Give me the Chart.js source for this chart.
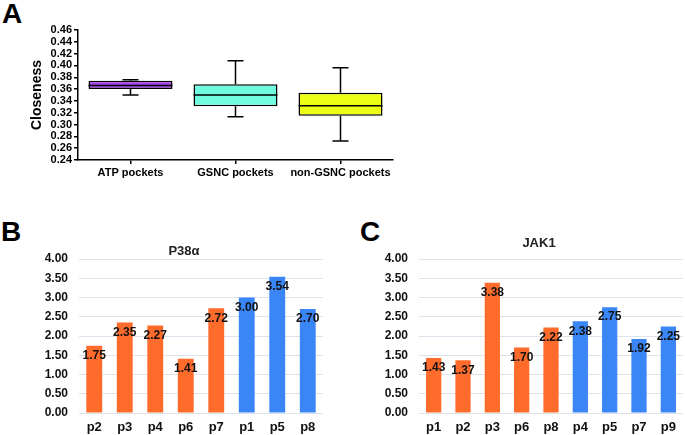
<!DOCTYPE html>
<html>
<head>
<meta charset="utf-8">
<script src="https://cdn.jsdelivr.net/npm/chart.js@4.4.1/dist/chart.umd.min.js"></script>
<style>
    body { margin: 0; background: #fff; width: 685px; height: 435px; position: relative; overflow: hidden; font-family: 'Liberation Sans', Arial, sans-serif; }
    .panel { position: absolute; }
    .letter { position: absolute; font-weight: bold; font-size: 28px; line-height: 28px; color: #000; }
</style>
</head>
<body>
<div class="letter" style="left:2px;top:0px">A</div>
<div class="letter" style="left:1px;top:218px">B</div>
<div class="letter" style="left:360px;top:218px">C</div>
<div class="panel" style="left:0;top:0;width:400px;height:200px"><canvas id="boxChart"></canvas></div>
<div class="panel" style="left:0;top:230px;width:335px;height:205px"><canvas id="p38Chart"></canvas></div>
<div class="panel" style="left:340px;top:230px;width:345px;height:205px"><canvas id="jakChart"></canvas></div>
<script>
// panel A - closeness box plot
const boxLabels = ['ATP pockets', 'GSNC pockets', 'non-GSNC pockets'];
const boxMin = [0.350, 0.313, 0.272];
const boxQ1 = [0.360, 0.331, 0.315];
const boxMedian = [0.366, 0.350, 0.332];
const boxQ3 = [0.374, 0.368, 0.354];
const boxMax = [0.376, 0.408, 0.396];

// panel B - P38α
const p38Labels = ['p2', 'p3', 'p4', 'p6', 'p7', 'p1', 'p5', 'p8'];
const p38Values = [1.75, 2.35, 2.27, 1.41, 2.72, 3.00, 3.54, 2.70];
const p38OrangeCount = 5;

// panel C - JAK1
const jakLabels = ['p1', 'p2', 'p3', 'p6', 'p8', 'p4', 'p5', 'p7', 'p9'];
const jakValues = [1.43, 1.37, 3.38, 1.70, 2.22, 2.38, 2.75, 1.92, 2.25];
const jakOrangeCount = 5;

const FONT = "'Liberation Sans', Arial, sans-serif";
Chart.defaults.font.family = FONT;
Chart.defaults.color = '#000';
Chart.defaults.animation = false;

const whiskerPlugin = {
    id: 'whiskers',
    afterDatasetsDraw(chart) {
        const ctx = chart.ctx;
        const y = chart.scales.y;
        const cap = 8;
        ctx.save();
        ctx.strokeStyle = '#000';
        ctx.lineWidth = 1.5;
        chart.getDatasetMeta(0).data.forEach((bar, i) => {
            const x = bar.x;
            const half = bar.width / 2;
            const yMin = y.getPixelForValue(boxMin[i]);
            const yMax = y.getPixelForValue(boxMax[i]);
            const yMed = y.getPixelForValue(boxMedian[i]);
            ctx.beginPath();
            ctx.moveTo(x, y.getPixelForValue(boxQ1[i]));
            ctx.lineTo(x, yMin);
            ctx.moveTo(x - cap, yMin);
            ctx.lineTo(x + cap, yMin);
            ctx.moveTo(x, y.getPixelForValue(boxQ3[i]));
            ctx.lineTo(x, yMax);
            ctx.moveTo(x - cap, yMax);
            ctx.lineTo(x + cap, yMax);
            ctx.moveTo(x - half, yMed);
            ctx.lineTo(x + half, yMed);
            ctx.stroke();
        });
        ctx.restore();
    }
};

new Chart(document.getElementById('boxChart'), {
    type: 'bar',
    data: {
        labels: boxLabels,
        datasets: [{
            data: boxQ1.map((q, i) => [q, boxQ3[i]]),
            backgroundColor: ['#aa44ee', '#70fbe0', '#ecff14'],
            borderColor: '#000',
            borderWidth: 1.5,
            borderSkipped: false,
            barPercentage: 0.8,
            categoryPercentage: 1
        }]
    },
    options: {
        responsive: true,
        maintainAspectRatio: false,
        layout: { padding: { left: 0, right: 7, top: 30, bottom: 0 } },
        plugins: { legend: { display: false }, tooltip: { enabled: false } },
        scales: {
            x: {
                grid: { display: true, offset: false, drawOnChartArea: false, drawTicks: true, tickLength: 4, color: '#000', lineWidth: 1.5 },
                border: { color: '#000', width: 1.5 },
                ticks: { font: { size: 11, weight: 'bold' }, color: '#000', padding: 2, maxRotation: 0, minRotation: 0, autoSkip: false },
                afterFit: s => { s.height = 40; s.paddingLeft = 0; s.paddingRight = 0; }
            },
            y: {
                min: 0.24,
                max: 0.46,
                grid: { drawOnChartArea: false, drawTicks: true, tickLength: 4, color: '#000', lineWidth: 1.5 },
                border: { color: '#000', width: 1.5 },
                ticks: {
                    stepSize: 0.02,
                    autoSkip: false,
                    padding: 2,
                    font: { size: 11, weight: 'bold' },
                    color: '#000',
                    callback: v => v.toFixed(2)
                },
                title: {
                    display: true,
                    text: 'Closeness',
                    font: { size: 14, weight: 'bold' },
                    color: '#000',
                    padding: { top: 29, bottom: 0 }
                },
                afterFit: s => { s.width = 78; s.paddingTop = 0; s.paddingBottom = 0; }
            }
        }
    },
    plugins: [whiskerPlugin]
});

const valueLabelPlugin = {
    id: 'valueLabels',
    afterDatasetsDraw(chart) {
        const ctx = chart.ctx;
        const values = chart.data.datasets[0].data;
        ctx.save();
        ctx.font = 'bold 12px ' + FONT;
        ctx.fillStyle = '#111';
        ctx.textAlign = 'center';
        ctx.textBaseline = 'middle';
        chart.getDatasetMeta(0).data.forEach((bar, i) => {
            ctx.fillText(values[i].toFixed(2), bar.x, bar.y + 10);
        });
        ctx.restore();
    }
};

// chart title is a little left of the plot centre in the original figure
const panelTitlePlugin = {
    id: 'panelTitle',
    afterDraw(chart, args, opts) {
        const ctx = chart.ctx;
        ctx.save();
        ctx.font = 'bold 13px ' + FONT;
        ctx.fillStyle = '#222';
        ctx.textAlign = 'center';
        ctx.textBaseline = 'middle';
        ctx.fillText(opts.text, opts.x, opts.y);
        ctx.restore();
    }
};

function makeBarChart(id, labels, values, orangeCount, title) {
    const colors = values.map((v, i) => i < orangeCount ? '#ff6b2b' : '#3b86f7');
    return new Chart(document.getElementById(id), {
        type: 'bar',
        data: {
            labels: labels,
            datasets: [{
                data: values,
                backgroundColor: colors,
                barPercentage: 0.52,
                categoryPercentage: 1
            }]
        },
        options: {
            responsive: true,
            maintainAspectRatio: false,
            layout: { padding: { left: 0, right: 12, top: 29, bottom: 0 } },
            plugins: {
                legend: { display: false },
                tooltip: { enabled: false },
                panelTitle: title
            },
            scales: {
                x: {
                    grid: { display: false, drawTicks: false },
                    border: { display: false },
                    ticks: { font: { size: 13, weight: 'bold' }, color: '#111', padding: 7, maxRotation: 0, autoSkip: false },
                    afterFit: s => { s.height = 22; s.paddingLeft = 0; s.paddingRight = 0; }
                },
                y: {
                    min: 0,
                    max: 4,
                    grid: { color: '#dbe4ec', drawTicks: false },
                    border: { display: false },
                    ticks: {
                        stepSize: 0.5,
                        autoSkip: false,
                        padding: 11,
                        font: { size: 12, weight: 'bold' },
                        color: '#111',
                        callback: v => v.toFixed(2)
                    },
                    afterFit: s => { s.width = 79; s.paddingTop = 0; s.paddingBottom = 0; }
                }
            }
        },
        plugins: [valueLabelPlugin, panelTitlePlugin]
    });
}

const p38Chart = makeBarChart('p38Chart', p38Labels, p38Values, p38OrangeCount, { text: 'P38α', x: 184, y: 21 });
const jakChart = makeBarChart('jakChart', jakLabels, jakValues, jakOrangeCount, { text: 'JAK1', x: 199, y: 13 });
jakChart.options.layout.padding.right = 2;
jakChart.update();
</script>
</body>
</html>
